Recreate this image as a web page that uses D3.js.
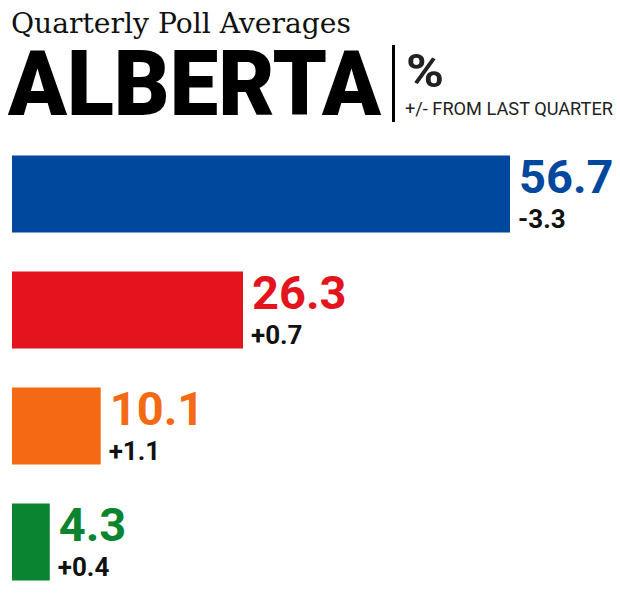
<!doctype html>
<html lang="en">
<head>
  <meta charset="UTF-8">
  <title>Quarterly Poll Averages - Alberta</title>
  <script src="https://d3js.org/d3.v7.min.js"></script>
  <style>
    body { margin: 0; background: #fff; }
  </style>
</head>
<body>
  <div id="chart"></div>
  <script type="text/javascript">
    // poll data read from the graphic
    var parties = ["CPC", "LPC", "NDP", "GPC"];
    var shares = [56.7, 26.3, 10.1, 4.3];
    var changes = ["-3.3", "+0.7", "+1.1", "+0.4"];
    var colours = ["#00479e", "#e3141e", "#f46a14", "#0a8431"];

    var data = parties.map(function(p, i) {
      return { party: p, share: shares[i], change: changes[i], colour: colours[i] };
    });

    var svg = d3.select("#chart").append("svg")
      .attr("width", 620)
      .attr("height", 594);

    // header
    svg.append("text")
      .attr("x", 11)
      .attr("y", 33)
      .attr("font-family", "'DejaVu Serif', serif")
      .attr("font-size", 27)
      .attr("textLength", 340)
      .attr("lengthAdjust", "spacingAndGlyphs")
      .attr("fill", "#111")
      .text("Quarterly Poll Averages");

    svg.append("text")
      .attr("x", 8)
      .attr("y", 115)
      .attr("font-family", "Roboto, sans-serif")
      .attr("font-weight", 900)
      .attr("font-size", 90)
      .attr("textLength", 373)
      .attr("lengthAdjust", "spacingAndGlyphs")
      .attr("fill", "#000")
      .text("ALBERTA");

    svg.append("rect")
      .attr("x", 392)
      .attr("y", 45)
      .attr("width", 3)
      .attr("height", 77)
      .attr("fill", "#000");

    svg.append("text")
      .attr("x", 406)
      .attr("y", 87)
      .attr("font-family", "Roboto, sans-serif")
      .attr("font-weight", 700)
      .attr("font-size", 46)
      .attr("textLength", 38)
      .attr("lengthAdjust", "spacingAndGlyphs")
      .attr("fill", "#222")
      .text("%");

    svg.append("text")
      .attr("x", 405)
      .attr("y", 115)
      .attr("font-family", "Roboto, sans-serif")
      .attr("font-size", 18)
      .attr("textLength", 208)
      .attr("lengthAdjust", "spacingAndGlyphs")
      .attr("fill", "#222")
      .text("+/- FROM LAST QUARTER");

    // scales
    var xScale = d3.scaleLinear()
      .domain([0, d3.max(shares)])
      .range([12, 510]);

    var yScale = d3.scaleBand()
      .domain(parties)
      .range([136, 600])
      .paddingInner(0.336)
      .paddingOuter(0.168);

    var rows = svg.selectAll("g.row")
      .data(data)
      .enter()
      .append("g")
        .attr("class", "row");

    rows.append("rect")
      .attr("x", xScale(0))
      .attr("y", function(d) { return yScale(d.party); })
      .attr("width", function(d) { return xScale(d.share) - xScale(0); })
      .attr("height", yScale.bandwidth())
      .attr("fill", function(d) { return d.colour; });

    // big value label
    rows.append("text")
      .attr("x", function(d) { return xScale(d.share) + 9; })
      .attr("y", function(d) { return yScale(d.party) + 38; })
      .attr("font-family", "Roboto, sans-serif")
      .attr("font-weight", 700)
      .attr("font-size", 47)
      .attr("fill", function(d) { return d.colour; })
      .text(function(d) { return d.share.toFixed(1); });

    // change from last quarter
    rows.append("text")
      .attr("x", function(d) { return xScale(d.share) + 8; })
      .attr("y", function(d) { return yScale(d.party) + 73; })
      .attr("font-family", "Roboto, sans-serif")
      .attr("font-weight", 700)
      .attr("font-size", 26)
      .attr("fill", "#111")
      .text(function(d) { return d.change; });
  </script>
</body>
</html>
